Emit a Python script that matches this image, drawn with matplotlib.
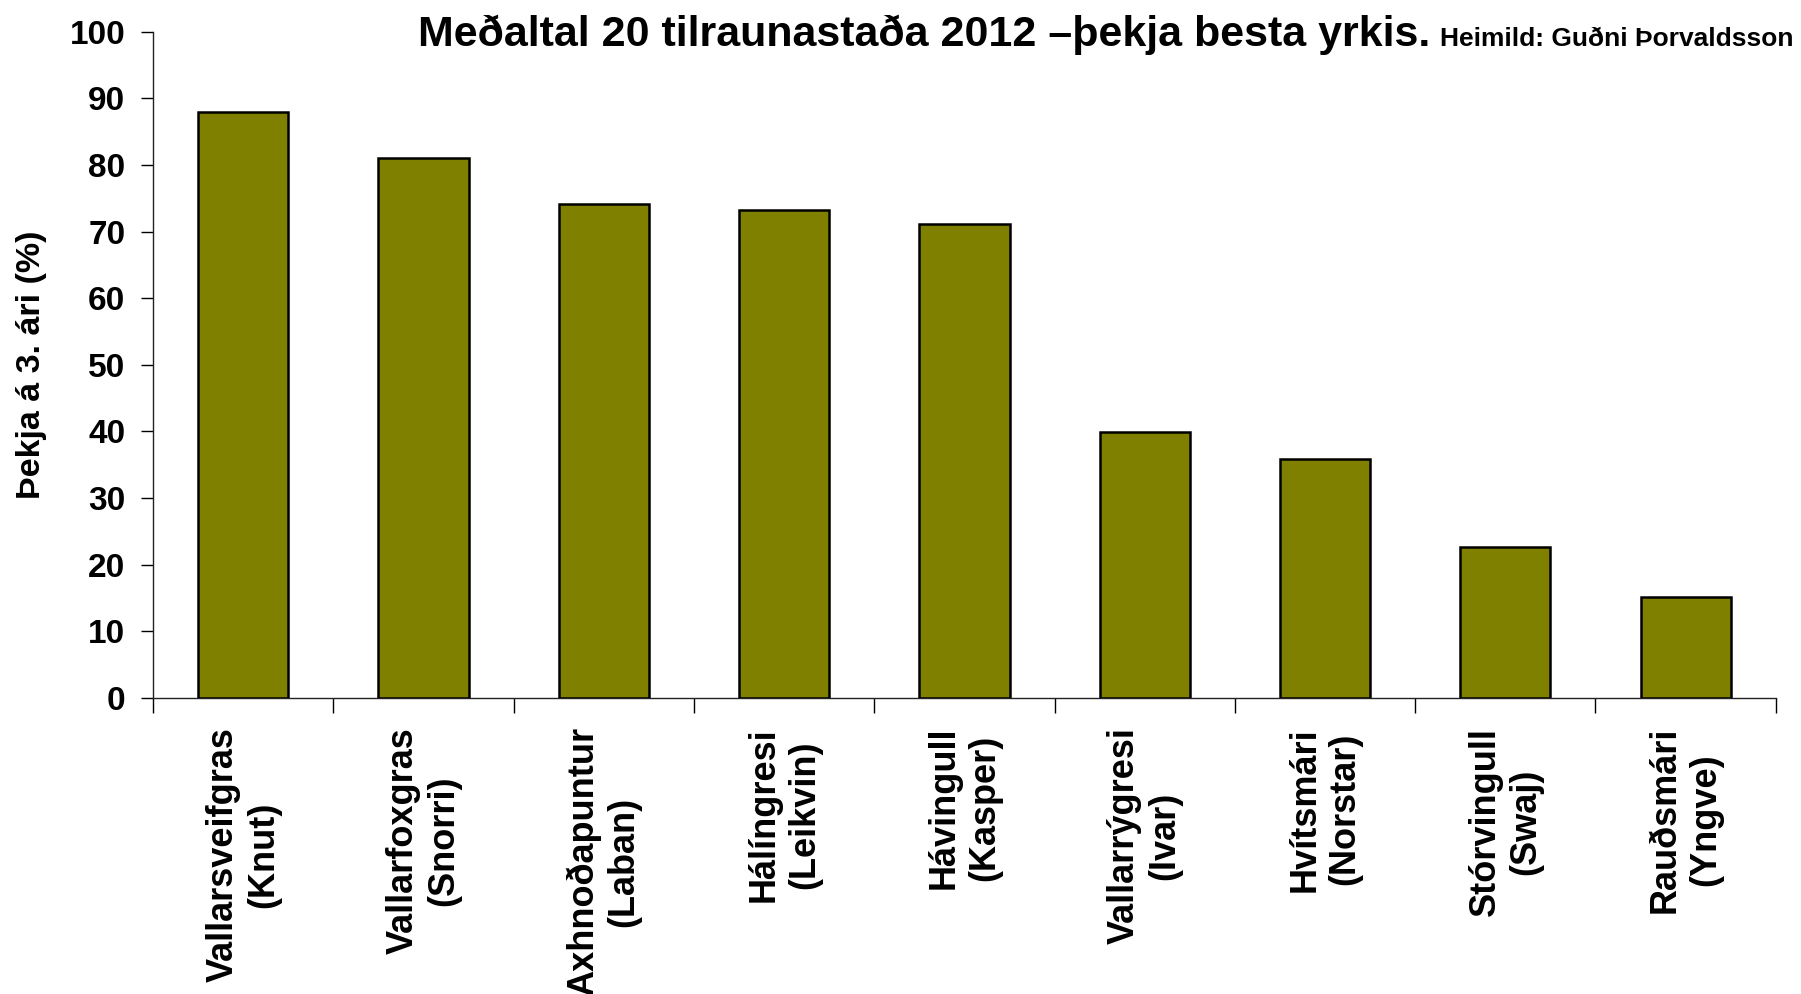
import numpy as np
import matplotlib
matplotlib.use("Agg")
import matplotlib.pyplot as plt
from matplotlib.ticker import FixedLocator

plt.rcParams['font.family'] = ['Liberation Sans', 'DejaVu Sans']
plt.rcParams['font.weight'] = 'bold'
plt.rcParams['axes.labelweight'] = 'bold'

# data
varieties = ['Vallarsveifgras\n(Knut)', 'Vallarfoxgras\n(Snorri)', 'Axhnoðapuntur\n(Laban)',
             'Hálíngresi\n(Leikvin)', 'Hávingull\n(Kasper)', 'Vallarrýgresi\n(Ivar)',
             'Hvítsmári\n(Norstar)', 'Stórvingull\n(Swaj)', 'Rauðsmári\n(Yngve)']
coverage = [88.0, 81.0, 74.1, 73.3, 71.2, 39.9, 35.8, 22.6, 15.2]
y_ticks = [0, 10, 20, 30, 40, 50, 60, 70, 80, 90, 100]

title = 'Meðaltal 20 tilraunastaða 2012 –þekja besta yrkis.'
source = 'Heimild: Guðni Þorvaldsson'
ylabel = 'Þekja á 3. ári (%)'

fig = plt.figure(figsize=(18.01, 9.94), dpi=100)
ax = fig.add_axes([0.085, 0.298, 0.901, 0.670])

x = np.arange(len(varieties))
ax.bar(x, coverage, width=0.5, color='#808000', edgecolor='black', linewidth=1.8, zorder=3)

ax.set_xlim(-0.5, len(varieties) - 0.5)
ax.set_ylim(0, 100)
ax.set_yticks(y_ticks)
ax.tick_params(axis='y', labelsize=24, length=9, width=1, pad=11, direction='out')

# category labels at centres, tick marks between categories
ax.set_xticks(x)
ax.set_xticklabels(varieties, rotation=90, fontsize=26, ha='center', va='top',
                   multialignment='center', linespacing=1.2)
ax.tick_params(axis='x', which='major', length=0, pad=21)
ax.xaxis.set_minor_locator(FixedLocator(np.arange(len(varieties) + 1) - 0.5))
ax.tick_params(axis='x', which='minor', length=11, width=1, direction='out')

for side in ['top', 'right']:
    ax.spines[side].set_visible(False)
for side in ['left', 'bottom']:
    ax.spines[side].set_linewidth(1)
    ax.spines[side].set_color('#222222')

ax.set_ylabel(ylabel, fontsize=24.5, labelpad=16)

fig.text(0.794, 0.954, title, fontsize=31, ha='right', va='baseline')
fig.text(0.996, 0.954, source, fontsize=19, ha='right', va='baseline')

fig.savefig('out.png', dpi=100)
